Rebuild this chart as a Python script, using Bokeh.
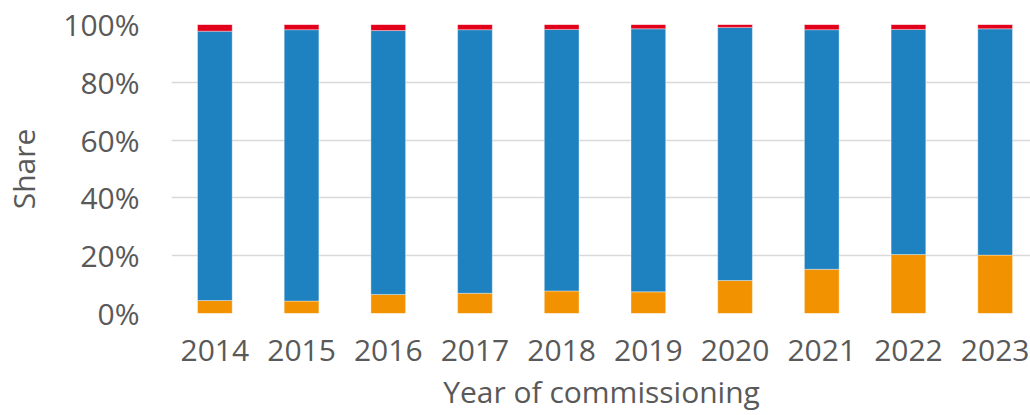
from bokeh.plotting import figure
from bokeh.models import ColumnDataSource, Range1d, FixedTicker, NumeralTickFormatter
from bokeh.embed import file_html
from bokeh.resources import INLINE

years = [2014, 2015, 2016, 2017, 2018, 2019, 2020, 2021, 2022, 2023]
orange_share = [4.5, 4.3, 6.6, 7.0, 7.8, 7.5, 11.4, 15.3, 20.4, 20.2]
red_share = [2.3, 1.8, 2.1, 1.8, 1.7, 1.5, 1.0, 1.8, 1.7, 1.5]
blue_share = [100 - o - r for o, r in zip(orange_share, red_share)]
y_ticks = [0, 20, 40, 60, 80, 100]

src = ColumnDataSource(dict(
    year=years,
    orange=[v / 100 for v in orange_share],
    blue=[v / 100 for v in blue_share],
    red=[v / 100 for v in red_share],
))

FONT = "Open Sans"
TXT = "#595959"

p = figure(
    frame_width=860, frame_height=289,
    min_border_left=162, min_border_right=0, min_border_top=24, min_border_bottom=94,
    x_range=Range1d(2013.5, 2013.5 + 860 / 86.7),
    y_range=Range1d(0, 1),
    output_backend="svg", toolbar_location=None,
)
p.vbar_stack(["orange", "blue", "red"], x="year", width=0.4, source=src,
             color=["#F39200", "#1F82C0", "#E2001A"],
             line_color="white", line_alpha=0.35, line_width=1)

p.outline_line_color = None
p.xgrid.grid_line_color = None
p.ygrid.grid_line_color = "#D9D9D9"
p.ygrid.grid_line_width = 1.5
p.ygrid.level = "underlay"

p.xaxis.ticker = FixedTicker(ticks=years)
p.yaxis.ticker = FixedTicker(ticks=[t / 100 for t in y_ticks])
p.yaxis.formatter = NumeralTickFormatter(format="0%")

for ax in (p.xaxis[0], p.yaxis[0]):
    ax.axis_line_color = None
    ax.major_tick_line_color = None
    ax.minor_tick_line_color = None
    ax.major_tick_out = 0
    ax.major_tick_in = 0
    ax.major_label_text_font = FONT
    ax.major_label_text_font_size = "30px"
    ax.major_label_text_color = TXT
    ax.axis_label_text_font = FONT
    ax.axis_label_text_font_size = "30px"
    ax.axis_label_text_font_style = "normal"
    ax.axis_label_text_color = TXT

p.xaxis.axis_label = "Year of commissioning"
p.yaxis.axis_label = "Share"
p.xaxis.major_label_standoff = 26
p.xaxis.axis_label_standoff = 7
p.yaxis.major_label_standoff = 32
p.yaxis.axis_label_standoff = 16

open("out.html", "w").write(file_html(p, INLINE))
